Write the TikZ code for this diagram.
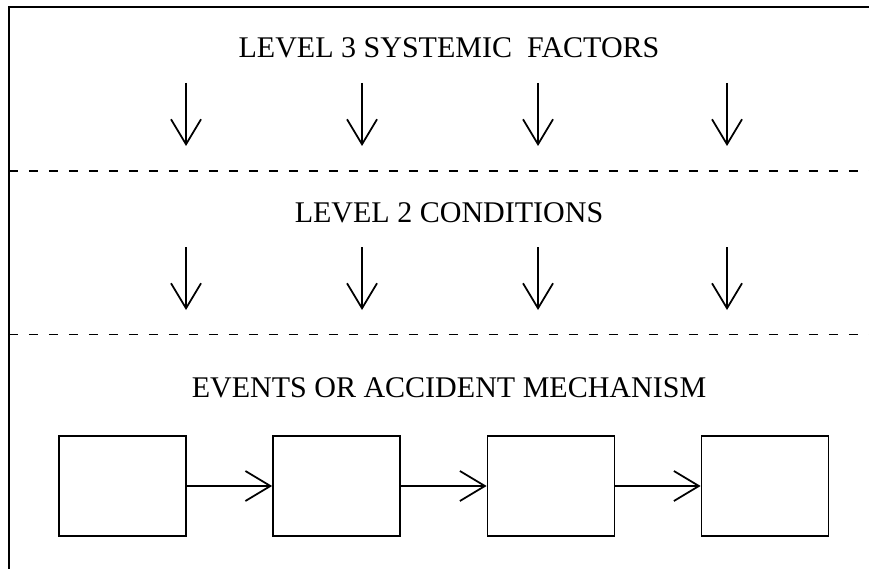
\documentclass[tikz,border=0pt]{standalone}
\usepackage{fontspec}
\setmainfont{Liberation Serif}
\usetikzlibrary{arrows.meta}
\tikzset{
  layertitle/.style={anchor=base,inner sep=0pt,font=\fontsize{8.54}{10}\selectfont},
  eventbox/.style={draw,line width=0.5pt,minimum width=1.27cm,minimum height=1cm,inner sep=0pt},
  flow/.style={line width=0.5pt,-{Straight Barb[length=0.25cm,width=0.30cm]}},
  divider/.style={line width=0.5pt,dash pattern=on 0.095cm off 0.105cm}
}
\begin{document}
\begin{tikzpicture}[x=1cm,y=-1cm]
       \useasboundingbox (0,0) rectangle (8.69,5.69);
       \draw[line width=0.5pt] (0.09,5.69) -- (0.09,0.07) -- (8.69,0.07);
       \draw[divider] (0.09,1.71) -- (8.69,1.71);
       \draw[divider] (0.09,3.345) -- (8.69,3.345);
       \node[layertitle] (lvl3) at (4.49,0.58) {LEVEL 3 SYSTEMIC\ \ FACTORS};
       \node[layertitle] (lvl2) at (4.49,2.22) {LEVEL 2 CONDITIONS};
       \node[layertitle] (evts) at (4.49,3.97) {EVENTS OR ACCIDENT MECHANISM};
       % level 3 arrows
       \coordinate (a3s1) at (1.86,0.83); \coordinate (a3e1) at (1.86,1.46);
       \coordinate (a3s2) at (3.62,0.83); \coordinate (a3e2) at (3.62,1.46);
       \coordinate (a3s3) at (5.38,0.83); \coordinate (a3e3) at (5.38,1.46);
       \coordinate (a3s4) at (7.27,0.83); \coordinate (a3e4) at (7.27,1.46);
       \draw[flow] (a3s1) -- (a3e1);
       \draw[flow] (a3s2) -- (a3e2);
       \draw[flow] (a3s3) -- (a3e3);
       \draw[flow] (a3s4) -- (a3e4);
       % level 2 arrows
       \coordinate (a2s1) at (1.86,2.47); \coordinate (a2e1) at (1.86,3.10);
       \coordinate (a2s2) at (3.62,2.47); \coordinate (a2e2) at (3.62,3.10);
       \coordinate (a2s3) at (5.38,2.47); \coordinate (a2e3) at (5.38,3.10);
       \coordinate (a2s4) at (7.27,2.47); \coordinate (a2e4) at (7.27,3.10);
       \draw[flow] (a2s1) -- (a2e1);
       \draw[flow] (a2s2) -- (a2e2);
       \draw[flow] (a2s3) -- (a2e3);
       \draw[flow] (a2s4) -- (a2e4);
       % event chain
       \node[eventbox] (ev1) at (1.225,4.86) {};
       \node[eventbox] (ev2) at (3.365,4.86) {};
       \node[eventbox] (ev3) at (5.51,4.86) {};
       \node[eventbox] (ev4) at (7.65,4.86) {};
       \draw[flow] (ev1) -- (ev2);
       \draw[flow] (ev2) -- (ev3);
       \draw[flow] (ev3) -- (ev4);
     \end{tikzpicture}
\end{document}
